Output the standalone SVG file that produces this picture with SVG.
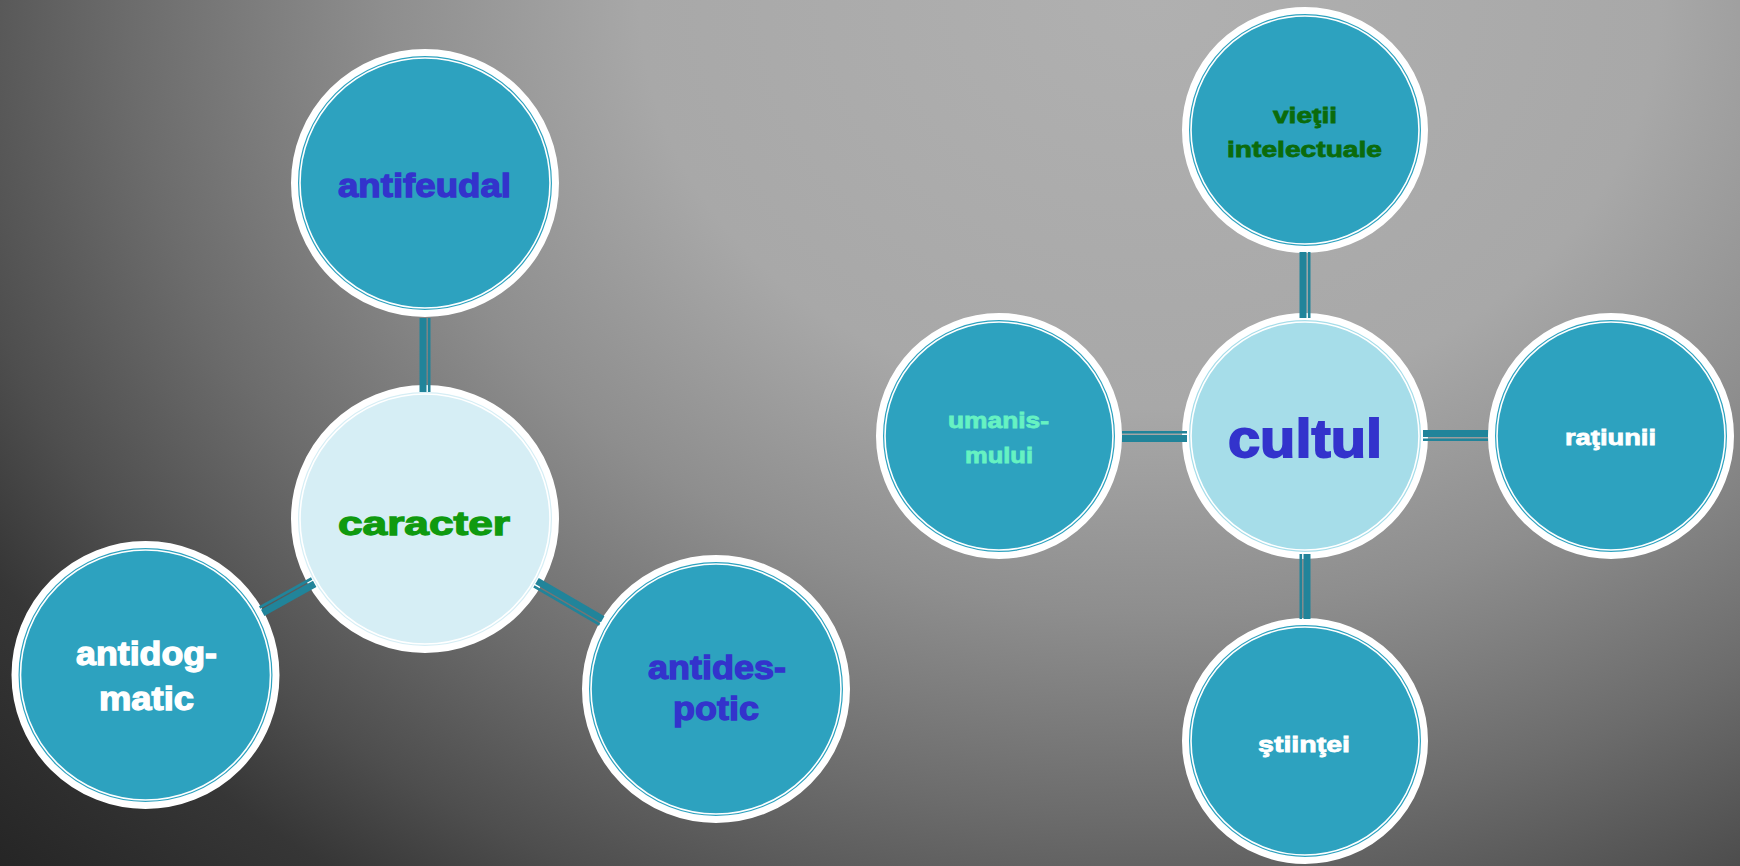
<svg xmlns="http://www.w3.org/2000/svg" width="1740" height="866" viewBox="0 0 1740 866">
<defs>
<radialGradient id="bg" gradientUnits="userSpaceOnUse" cx="1150" cy="0" r="1700" gradientTransform="translate(1150 0) scale(1 0.8) translate(-1150 0)">
<stop offset="0" stop-color="#b0b0b0"/>
<stop offset="0.3" stop-color="#a8a8a8"/>
<stop offset="0.45" stop-color="#8e8e8e"/>
<stop offset="0.6" stop-color="#6c6c6c"/>
<stop offset="0.72" stop-color="#4e4e4e"/>
<stop offset="0.8" stop-color="#363636"/>
<stop offset="1" stop-color="#1c1c1c"/>
</radialGradient>
</defs>
<style>
.ring{stroke:#ffffff;stroke-width:7}
.inner{fill:none;stroke:#ffffff;stroke-width:1.6}
.teal{fill:#2da2bf}
.c1{fill:#d6eef5}
.c2{fill:#a6dde9}
.thick{stroke:#21849a;stroke-width:7;fill:none}
.thin{stroke:#21849a;stroke-width:2.6;fill:none}
text{font-family:"Liberation Sans",Arial,sans-serif;font-weight:bold;text-anchor:middle}
.big{font-size:33px;stroke-width:1.3}
.sm{font-size:22px;stroke-width:0.8}
.blue{fill:#3333cc;stroke:#3333cc}
.green{fill:#0f9a0f;stroke:#0f9a0f}
.dgreen{fill:#0b6b0b;stroke:#0b6b0b}
.white{fill:#ffffff;stroke:#ffffff}
.aqua{fill:#66f2c2;stroke:#66f2c2}
</style>
<rect x="0" y="0" width="1740" height="866" fill="url(#bg)"/>

<g id="antifeudal">
<circle class="ring teal" cx="425" cy="183" r="130.5"/>
<circle class="inner" cx="425" cy="183" r="125"/>
<text class="big blue" x="424.5" y="197" textLength="173" lengthAdjust="spacingAndGlyphs">antifeudal</text>
</g>
<g id="caracter">
<circle class="ring c1" cx="425" cy="519" r="130.5"/>
<circle class="inner" cx="425" cy="519" r="125"/>
<text class="big green" x="424" y="535" textLength="172" lengthAdjust="spacingAndGlyphs">caracter</text>
</g>
<g id="antidogmatic">
<circle class="ring teal" cx="145.5" cy="675" r="130.5"/>
<circle class="inner" cx="145.5" cy="675" r="125"/>
<text class="big white" x="146.5" y="665" textLength="141" lengthAdjust="spacingAndGlyphs">antidog-</text>
<text class="big white" x="146.5" y="710" textLength="95" lengthAdjust="spacingAndGlyphs">matic</text>
</g>
<g id="antidespotic">
<circle class="ring teal" cx="716" cy="689" r="130.5"/>
<circle class="inner" cx="716" cy="689" r="125"/>
<text class="big blue" x="717" y="679" textLength="138" lengthAdjust="spacingAndGlyphs">antides-</text>
<text class="big blue" x="716" y="720" textLength="86" lengthAdjust="spacingAndGlyphs">potic</text>
</g>

<g id="vietii">
<circle class="ring teal" cx="1305" cy="130" r="119.5"/>
<circle class="inner" cx="1305" cy="130" r="114"/>
<text class="sm dgreen" x="1305" y="123" textLength="64" lengthAdjust="spacingAndGlyphs">vieţii</text>
<text class="sm dgreen" x="1304.5" y="157" textLength="155" lengthAdjust="spacingAndGlyphs">intelectuale</text>
</g>
<g id="cultul">
<circle class="ring c2" cx="1305" cy="436" r="119.5"/>
<circle class="inner" cx="1305" cy="436" r="114"/>
<text class="blue" style="font-size:54px;stroke-width:1.8" x="1305" y="457" textLength="154" lengthAdjust="spacingAndGlyphs">cultul</text>
</g>
<g id="umanismului">
<circle class="ring teal" cx="999" cy="436" r="119.5"/>
<circle class="inner" cx="999" cy="436" r="114"/>
<text class="sm aqua" x="998.5" y="428" textLength="101" lengthAdjust="spacingAndGlyphs">umanis-</text>
<text class="sm aqua" x="999" y="463" textLength="68" lengthAdjust="spacingAndGlyphs">mului</text>
</g>
<g id="ratiunii">
<circle class="ring teal" cx="1611" cy="436" r="119.5"/>
<circle class="inner" cx="1611" cy="436" r="114"/>
<text class="sm white" x="1610.5" y="445" textLength="91" lengthAdjust="spacingAndGlyphs">raţiunii</text>
</g>
<g id="stiintei">
<circle class="ring teal" cx="1305" cy="741" r="119.5"/>
<circle class="inner" cx="1305" cy="741" r="114"/>
<text class="sm white" x="1304" y="752" textLength="92" lengthAdjust="spacingAndGlyphs">ştiinţei</text>
</g>

<g id="connectors">
<line class="thick" x1="423" y1="318" x2="423" y2="392"/>
<line class="thin" x1="429.2" y1="318" x2="429.2" y2="392"/>
<line class="thick" x1="314.7" y1="583.9" x2="262.7" y2="612.9"/>
<line class="thin" x1="311.6" y1="578.5" x2="259.6" y2="607.5"/>
<line class="thick" x1="537.0" y1="581.0" x2="602.7" y2="619.3"/>
<line class="thin" x1="533.9" y1="586.4" x2="599.6" y2="624.7"/>
<line class="thick" x1="1303" y1="252" x2="1303" y2="318"/>
<line class="thin" x1="1309.2" y1="252" x2="1309.2" y2="318"/>
<line class="thick" x1="1307" y1="554" x2="1307" y2="619"/>
<line class="thin" x1="1300.8" y1="554" x2="1300.8" y2="619"/>
<line class="thick" x1="1122" y1="438.5" x2="1187" y2="438.5"/>
<line class="thin" x1="1122" y1="432.3" x2="1187" y2="432.3"/>
<line class="thick" x1="1423" y1="433.5" x2="1488" y2="433.5"/>
<line class="thin" x1="1423" y1="439.7" x2="1488" y2="439.7"/>
</g>
</svg>
